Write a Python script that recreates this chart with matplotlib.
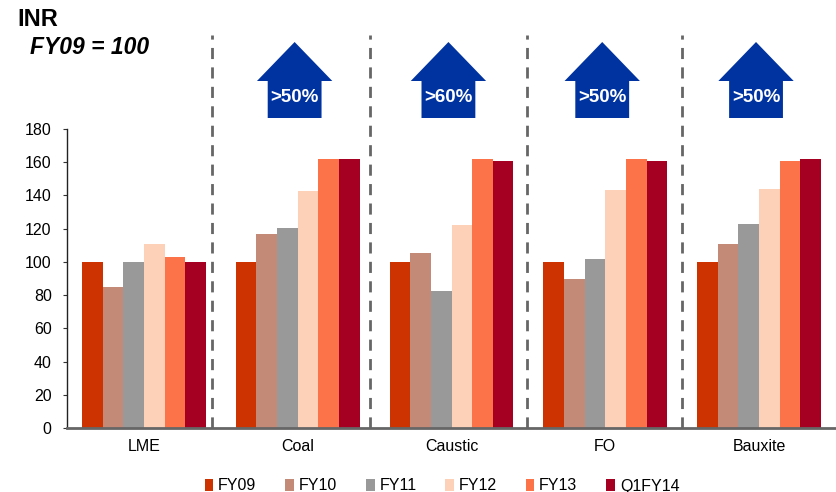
import matplotlib
matplotlib.use("Agg")
import matplotlib.pyplot as plt
from matplotlib.patches import Polygon
from matplotlib.transforms import blended_transform_factory
from matplotlib import font_manager
import numpy as np

categories = ["LME", "Coal", "Caustic", "FO", "Bauxite"]
series_names = ["FY09", "FY10", "FY11", "FY12", "FY13", "Q1FY14"]
fy09 = [100, 100, 100, 100, 100]
fy10 = [85, 117, 105.5, 90, 110.5]
fy11 = [100, 120.5, 82.5, 101.5, 123]
fy12 = [110.5, 142.5, 122.5, 143.5, 144]
fy13 = [103, 162, 162, 162, 160.5]
q1fy14 = [100, 162, 160.5, 160.5, 162]
series_values = [fy09, fy10, fy11, fy12, fy13, q1fy14]
colors = ["#CC3300", "#C48A78", "#999999", "#FDD0B8", "#FC734A", "#A50021"]

arrow_labels = {"Coal": ">50%", "Caustic": ">60%", "FO": ">50%", "Bauxite": ">50%"}
divider_positions = [0.44, 1.47, 2.49, 3.5]
yticks = list(range(0, 181, 20))

available = {f.name for f in font_manager.fontManager.ttflist}
narrow = "Liberation Sans Narrow" if "Liberation Sans Narrow" in available else "Liberation Sans"
plt.rcParams["font.family"] = [narrow, "DejaVu Sans"]

W, H = 836, 492
fig = plt.figure(figsize=(W / 100, H / 100), dpi=100)
ax = fig.add_axes([67 / W, 64 / H, (W - 67) / W, 299 / H])

n = len(series_names)
group_w = 0.805
bw = group_w / n
x = np.arange(len(categories))
for i, (name, vals, c) in enumerate(zip(series_names, series_values, colors)):
    ax.bar(x - group_w / 2 + bw * (i + 0.5), vals, width=bw, color=c,
           label=name, zorder=2)

ax.set_xlim(-0.5, len(categories) - 0.5)
ax.set_ylim(0, 180)
ax.set_yticks(yticks)
ax.set_xticks(x)
ax.set_xticklabels(categories, fontsize=11.5)
ax.tick_params(axis="x", length=0, pad=8)
ax.tick_params(axis="y", length=3, width=0.8, labelsize=11.5, pad=8, color="#333333")
for s in ["top", "right"]:
    ax.spines[s].set_visible(False)
ax.spines["left"].set_color("#222222")
ax.spines["left"].set_linewidth(1.0)
ax.spines["bottom"].set_color("#666666")
ax.spines["bottom"].set_linewidth(2.0)
ax.spines["bottom"].set_zorder(3)

# dashed separators between categories, reaching above the plot area
tr = blended_transform_factory(ax.transData, fig.transFigure)
for d in divider_positions:
    ax.plot([d, d], [1 - 428 / H, 1 - 35 / H], transform=tr, color="#666666",
            lw=2.0, ls=(0, (4, 3)), clip_on=False, zorder=4)

# up-arrows with growth labels
shaft_hw, head_hw = 0.175, 0.245
y_tip, y_head, y_bot = 1 - 42 / H, 1 - 81 / H, 1 - 118 / H
for cat, lab in arrow_labels.items():
    cx = categories.index(cat) - 0.02
    pts = [(cx - shaft_hw, y_bot), (cx + shaft_hw, y_bot), (cx + shaft_hw, y_head),
           (cx + head_hw, y_head), (cx, y_tip), (cx - head_hw, y_head),
           (cx - shaft_hw, y_head)]
    ax.add_patch(Polygon(pts, closed=True, transform=tr, facecolor="#0033A0",
                         edgecolor="none", clip_on=False))
    ax.text(cx, 1 - 97 / H, lab, transform=tr, ha="center", va="center",
            color="white", fontsize=13.5, fontweight="bold",
            family=["Liberation Sans", "DejaVu Sans"])

fig.text(17 / W, 1 - 20 / H, "INR", fontsize=17, fontweight="bold",
         ha="left", va="center", family=["Liberation Sans", "DejaVu Sans"])
fig.text(30 / W, 1 - 48 / H, "FY09 = 100", fontsize=16.5, fontweight="bold",
         style="italic", ha="left", va="center", family=["Liberation Sans", "DejaVu Sans"])

leg = fig.legend(loc="center", bbox_to_anchor=(442 / W, 1 - 486 / H), ncol=6,
                 frameon=False, fontsize=11.5, handlelength=0.55, handleheight=0.8,
                 handletextpad=0.3, columnspacing=1.8, borderpad=0.1)

fig.savefig("out.png", dpi=100)
